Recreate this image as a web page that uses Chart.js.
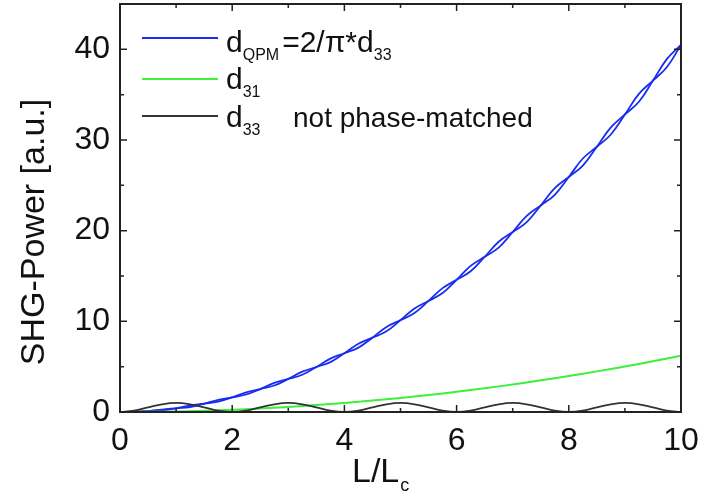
<!DOCTYPE html>
<html>
<head>
<meta charset="utf-8">
<script src="https://cdn.jsdelivr.net/npm/chart.js@4.4.1/dist/chart.umd.min.js"></script>
<style>
  html, body { margin: 0; padding: 0; background: #fff; }
  #wrap { width: 704px; height: 497px; }
</style>
</head>
<body>
<div id="wrap"><canvas id="grafico" width="704" height="497"></canvas></div>
<script>
// L/Lc positions (0.25 steps)
const posL = [0, 0.25, 0.5, 0.75, 1, 1.25, 1.5, 1.75, 2, 2.25, 2.5, 2.75, 3, 3.25, 3.5, 3.75,
  4, 4.25, 4.5, 4.75, 5, 5.25, 5.5, 5.75, 6, 6.25, 6.5, 6.75, 7, 7.25, 7.5, 7.75,
  8, 8.25, 8.5, 8.75, 9, 9.25, 9.5, 9.75, 10];

// two blue QPM traces (braided)
const qpmA = [0, 0.01, 0.10, 0.27, 0.41, 0.55, 0.91, 1.34, 1.62, 1.93, 2.53, 3.21, 3.65, 4.11, 4.96, 5.89,
  6.48, 7.10, 8.20, 9.38, 10.13, 10.91, 12.25, 13.66, 14.58, 15.52, 17.11, 18.78, 19.85, 20.95, 22.78, 24.69,
  25.92, 27.17, 29.26, 31.40, 32.81, 34.22, 36.55, 38.95, 40.5];
const qpmB = [0, 0.03, 0.10, 0.19, 0.41, 0.71, 0.91, 1.14, 1.62, 2.17, 2.53, 2.92, 3.65, 4.45, 4.96, 5.50,
  6.48, 7.53, 8.20, 8.90, 10.13, 11.42, 12.25, 13.12, 14.58, 16.12, 17.11, 18.13, 19.85, 21.63, 22.78, 23.96,
  25.92, 27.96, 29.26, 30.61, 32.81, 35.09, 36.55, 38.05, 40.5];

// d33 not phase-matched
const d33np = [0, 0.15, 0.5, 0.85, 1, 0.85, 0.5, 0.15, 0, 0.15, 0.5, 0.85, 1, 0.85, 0.5, 0.15,
  0, 0.15, 0.5, 0.85, 1, 0.85, 0.5, 0.15, 0, 0.15, 0.5, 0.85, 1, 0.85, 0.5, 0.15,
  0, 0.15, 0.5, 0.85, 1, 0.85, 0.5, 0.15, 0];

// d31 (0.5 steps)
const posL31 = [0, 0.5, 1, 1.5, 2, 2.5, 3, 3.5, 4, 4.5, 5, 5.5, 6, 6.5, 7, 7.5, 8, 8.5, 9, 9.5, 10];
const d31 = [0, 0.02, 0.06, 0.14, 0.25, 0.39, 0.56, 0.76, 0.99, 1.26, 1.55, 1.88, 2.23, 2.62, 3.04, 3.49,
  3.97, 4.48, 5.02, 5.60, 6.2];

const xTicks = [0, 2, 4, 6, 8, 10];
const yTicks = [0, 10, 20, 30, 40];

const FONT = '"Liberation Sans", Arial, sans-serif';
const pares = (xs, ys) => xs.map((x, i) => ({ x: x, y: ys[i] }));

// frame, inward ticks, titles and legend
const marco = {
    id: 'marco',
    afterDraw(chart) {
        const ctx = chart.ctx;
        const a = chart.chartArea;
        const sx = chart.scales.x, sy = chart.scales.y;
        ctx.save();
        ctx.strokeStyle = '#222';
        ctx.lineWidth = 2;
        ctx.strokeRect(a.left, a.top, a.right - a.left, a.bottom - a.top);
        ctx.lineWidth = 1.5;
        ctx.beginPath();
        for (let v = 0; v <= 10; v += 1) {
            const p = sx.getPixelForValue(v);
            const len = v % 2 === 0 ? 7 : 4;
            ctx.moveTo(p, a.bottom); ctx.lineTo(p, a.bottom - len);
            ctx.moveTo(p, a.top); ctx.lineTo(p, a.top + len);
        }
        for (let v = 0; v <= 40; v += 5) {
            const p = sy.getPixelForValue(v);
            const len = v % 10 === 0 ? 7 : 4;
            ctx.moveTo(a.left, p); ctx.lineTo(a.left + len, p);
            ctx.moveTo(a.right, p); ctx.lineTo(a.right - len, p);
        }
        ctx.stroke();

        ctx.fillStyle = '#111';
        ctx.textBaseline = 'alphabetic';
        // y title
        ctx.save();
        ctx.translate(44, (a.top + a.bottom) / 2 + 24);
        ctx.rotate(-Math.PI / 2);
        ctx.textAlign = 'center';
        ctx.font = '34px ' + FONT;
        ctx.fillText('SHG-Power [a.u.]', 0, 0);
        ctx.restore();

        // x title  L/Lc
        ctx.textAlign = 'left';
        ctx.font = '34px ' + FONT;
        ctx.fillText('L/L', 352, 482);
        const w = ctx.measureText('L/L').width;
        ctx.font = '18px ' + FONT;
        ctx.fillText('c', 352 + w + 1, 491);

        // legend
        const texto = (partes, x, y) => {
            partes.forEach(p => {
                ctx.font = (p[1] ? '16px ' : '30px ') + FONT;
                ctx.fillText(p[0], x, y + (p[1] ? 8 : 0));
                x += ctx.measureText(p[0]).width + (p[1] ? 3 : 0);
            });
        };
        const filas = [
            { color: '#1a2cf0', y: 38, base: 52, partes: [['d', 0], ['QPM', 1], ['=2/\u03c0*d', 0], ['33', 1]] },
            { color: '#3cf03c', y: 79, base: 89, partes: [['d', 0], ['31', 1]] },
            { color: '#333333', y: 116, base: 127, partes: [['d', 0], ['33', 1]] }
        ];
        filas.forEach(f => {
            ctx.strokeStyle = f.color;
            ctx.lineWidth = 2;
            ctx.beginPath();
            ctx.moveTo(142, f.y); ctx.lineTo(218, f.y);
            ctx.stroke();
            texto(f.partes, 226, f.base);
        });
        ctx.font = '28px ' + FONT;
        ctx.fillText('not phase-matched', 293, 127);
        ctx.restore();
    }
};

const sinMargen = s => { s.paddingTop = 0; s.paddingBottom = 0; s.paddingLeft = 0; s.paddingRight = 0; };

new Chart(document.getElementById('grafico').getContext('2d'), {
    type: 'line',
    data: {
        datasets: [
            { label: 'd33 not phase-matched', data: pares(posL, d33np), borderColor: '#333333', borderWidth: 1.8, tension: 0.4 },
            { label: 'd31', data: pares(posL31, d31), borderColor: '#3cf03c', borderWidth: 2, tension: 0.4 },
            { label: 'dQPM A', data: pares(posL, qpmA), borderColor: '#1a2cf0', borderWidth: 1.8, tension: 0.4 },
            { label: 'dQPM B', data: pares(posL, qpmB), borderColor: '#1a2cf0', borderWidth: 1.8, tension: 0.4 }
        ]
    },
    options: {
        responsive: false,
        animation: false,
        events: [],
        elements: { point: { radius: 0 } },
        layout: { autoPadding: false, padding: { top: 4, right: 23, left: 0, bottom: 0 } },
        plugins: { legend: { display: false }, tooltip: { enabled: false } },
        scales: {
            x: {
                type: 'linear', min: 0, max: 10,
                afterFit: s => { s.height = 85; sinMargen(s); },
                afterBuildTicks: s => { s.ticks = xTicks.map(v => ({ value: v })); },
                grid: { display: false, drawTicks: false },
                border: { display: false },
                ticks: { padding: 10, color: '#111', font: { family: FONT, size: 32 }, maxRotation: 0 }
            },
            y: {
                type: 'linear', min: 0, max: 45,
                afterFit: s => { s.width = 120; sinMargen(s); },
                afterBuildTicks: s => { s.ticks = yTicks.map(v => ({ value: v })); },
                grid: { display: false, drawTicks: false },
                border: { display: false },
                ticks: { padding: 10, color: '#111', font: { family: FONT, size: 32 } }
            }
        }
    },
    plugins: [marco]
});
</script>
</body>
</html>
